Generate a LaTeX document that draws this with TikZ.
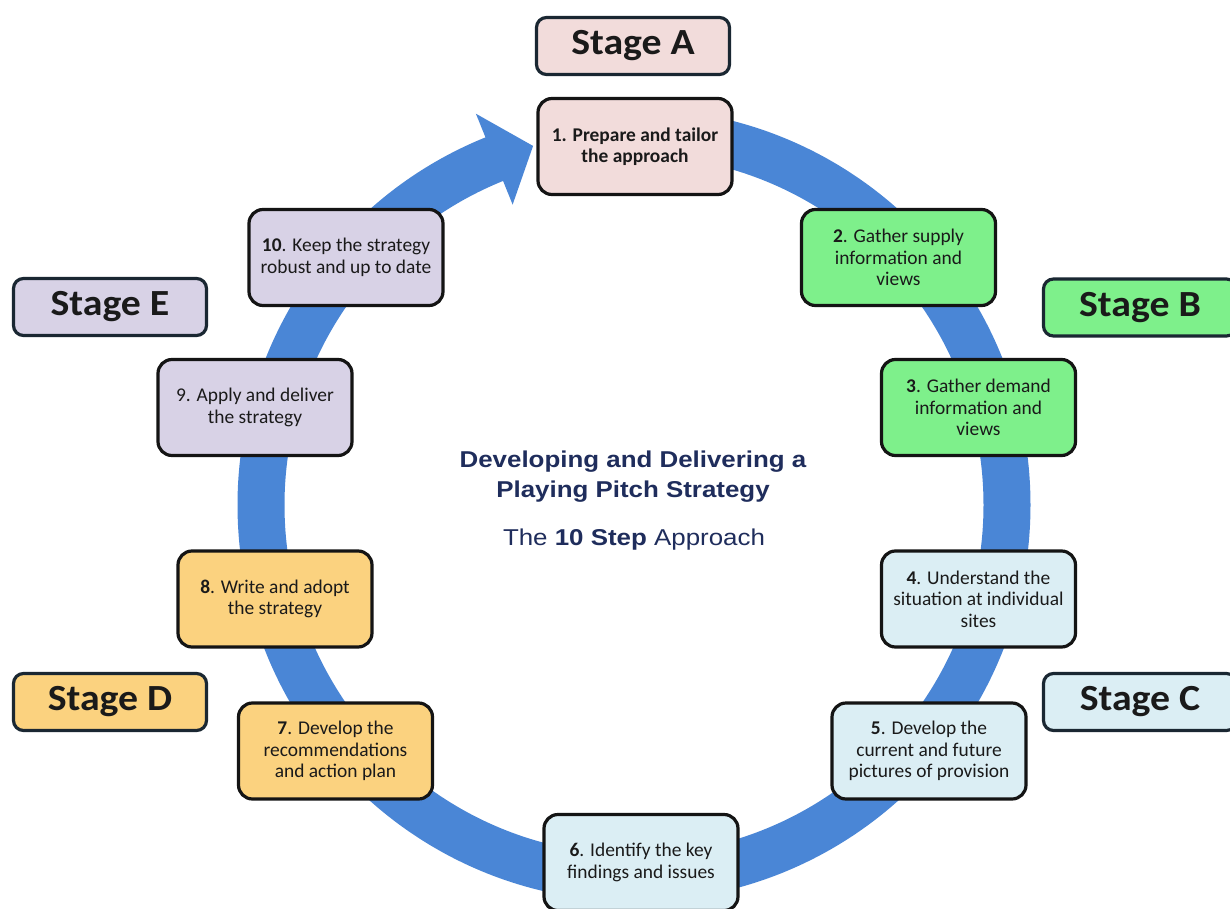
\documentclass[tikz,border=0pt]{standalone}
\usepackage{fontspec}
\setmainfont{Carlito}
\newfontfamily\titlefont[FakeStretch=1.13]{Liberation Sans}
\newfontfamily\stagefont[FakeStretch=1.08]{Carlito}
\definecolor{ringblue}{HTML}{4A86D6}
\definecolor{stepline}{HTML}{141414}
\definecolor{stageline}{HTML}{1A2732}
\definecolor{titleblue}{HTML}{1F2D5C}
\definecolor{textdark}{HTML}{1A1A1A}
\definecolor{pinkfill}{HTML}{F2DCDB}
\definecolor{greenfill}{HTML}{7EF08B}
\definecolor{bluefill}{HTML}{DBEEF4}
\definecolor{orangefill}{HTML}{FBD27F}
\definecolor{lavfill}{HTML}{D8D2E6}
\begin{document}
\begin{tikzpicture}[x=1bp,y=-1bp,
  stepbox/.style={draw=stepline, line width=3.2bp, rounded corners=14bp,
    minimum width=194bp, minimum height=96bp, align=center, inner sep=0pt,
    text=textdark, font=\fontsize{19.5}{21.5}\selectfont},
  stagebox/.style={draw=stageline, line width=3.2bp, rounded corners=10bp,
    minimum width=193bp, minimum height=57bp, inner sep=0pt,
    text=textdark, font=\stagefont\fontsize{37}{40}\selectfont\bfseries},
  ring/.style={ringblue},
]
\useasboundingbox (0,0) rectangle (1230,909);
\clip (0,0) rectangle (1230,909);
\fill[white] (0,0) rectangle (1230,909);

% the cycle ring with its arrowhead
\draw[ring, line width=47bp] (634,505) ++(-90:373)
  arc[start angle=-90, end angle=249, radius=373];
\fill[ring, shift={(634,505)}] (248:324) -- (254.3:373) -- (248:422) -- cycle;

% central title
\node[font=\titlefont\bfseries\fontsize{23}{30}\selectfont, text=titleblue, align=center]
  (title) at (633,477) {Developing and Delivering a\\Playing Pitch Strategy};
\node[font=\titlefont\fontsize{23}{28}\selectfont, text=titleblue]
  (subtitle) at (634,540) {The \textbf{10 Step} Approach};

% stage labels
\node[stagebox, fill=pinkfill] (stA) at (633,46) {Stage A};
\node[stagebox, fill=greenfill] (stB) at (1140,307.5) {Stage B};
\node[stagebox, fill=bluefill] (stC) at (1140,702) {Stage C};
\node[stagebox, fill=orangefill] (stD) at (110,702) {Stage D};
\node[stagebox, fill=lavfill] (stE) at (110,307) {Stage E};

% the ten steps
\node[stepbox, fill=pinkfill, font=\fontsize{19.5}{21.5}\selectfont\bfseries] (s1) at (635,146.5)
  {1. Prepare and tailor\\the approach};
\node[stepbox, fill=greenfill] (s2) at (898.5,257.5)
  {\textbf{2}. Gather supply\\information and\\views};
\node[stepbox, fill=greenfill] (s3) at (978.5,407.5)
  {\textbf{3}. Gather demand\\information and\\views};
\node[stepbox, fill=bluefill] (s4) at (978.5,599)
  {\textbf{4}. Understand the\\situation at individual\\sites};
\node[stepbox, fill=bluefill] (s5) at (929,751)
  {\textbf{5}. Develop the\\current and future\\pictures of provision};
\node[stepbox, fill=bluefill] (s6) at (641,862.5)
  {\textbf{6}. Identify the key\\findings and issues};
\node[stepbox, fill=orangefill] (s7) at (335.5,751)
  {\textbf{7}. Develop the\\recommendations\\and action plan};
\node[stepbox, fill=orangefill] (s8) at (275,599)
  {\textbf{8}. Write and adopt\\the strategy};
\node[stepbox, fill=lavfill] (s9) at (255,407.5)
  {9. Apply and deliver\\the strategy};
\node[stepbox, fill=lavfill] (s10) at (346,257.5)
  {\textbf{10}. Keep the strategy\\robust and up to date};
\end{tikzpicture}
\end{document}
